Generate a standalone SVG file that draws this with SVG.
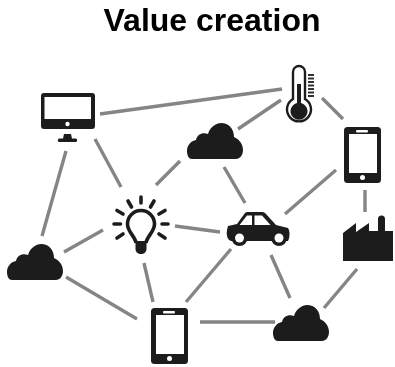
<svg xmlns="http://www.w3.org/2000/svg" width="395" height="367" viewBox="0 0 395 367">
<defs>
<filter id="soft" x="-5%" y="-5%" width="110%" height="110%"><feGaussianBlur stdDeviation="0.7"/></filter>
<filter id="softer" x="-5%" y="-20%" width="110%" height="140%"><feGaussianBlur stdDeviation="0.4"/></filter>
<path id="cloud" d="M5 36 C1 36 0 31 0 28 C0 22 4 18 9 17 C10 12 15 9 21 11 C23 4 29 0 34 0 C42 0 47 6 47 14 C52 16 56 21 56 27 C56 32 53 36 49 36 Z"/>
<g id="phone"><rect width="37" height="56" rx="3.5" class="ink"/><rect x="5" y="7" width="28" height="39" class="hole"/><rect x="12" y="3" width="12" height="2.4" rx="1" class="hole"/><circle cx="18.500" cy="50.500" r="2.500" class="hole"/></g>
</defs>
<style>
.ink{fill:#1e1e1e}
.hole{fill:#fff}
.link{stroke:#858585;stroke-width:3.400;fill:none}
.ray{stroke:#1e1e1e;stroke-width:3.600;stroke-linecap:round;fill:none}
.title{font-family:"Liberation Sans",Arial,sans-serif;font-weight:700;font-size:32px;fill:#000;text-anchor:middle}
</style>
<rect width="395" height="367" fill="#fff"/>
<text class="title" x="212" y="31" filter="url(#softer)">Value creation</text>
<g filter="url(#soft)">
<g id="connectors" class="link">
<path d="M100 114L282 89"/><path d="M95 139L121 187"/><path d="M66 151L42 236"/><path d="M180 161L156 185"/><path d="M281 100L238 129"/><path d="M322 98L343 119"/><path d="M224 167L245 203"/><path d="M336 170L285 214"/><path d="M365 190V212"/><path d="M64 252L103 230"/><path d="M66 277L137 319"/><path d="M144 263L153 302"/><path d="M186 302L231 249"/><path d="M175 226L220 232"/><path d="M271 255L290 298"/><path d="M324 308L357 269"/><path d="M200 322H275"/>
</g>
<g id="monitor"><rect x="41" y="93" width="54" height="36" rx="3" class="ink"/><rect x="44.500" y="97" width="46.500" height="22" class="hole"/><circle cx="67.500" cy="124" r="2.200" class="hole"/><path class="ink" d="M64 134H71L72 138.500H76C77.500 139 77.500 142 76 142H59C57.500 142 57.500 139 59 138.500H63Z"/></g>
<g id="thermometer"><path d="M293 99V72A6 6 0 0 1 305 72V99A12 12 0 1 1 293 99Z" fill="#fff" stroke="#1e1e1e" stroke-width="2.400"/><path class="ink" d="M297 84H301V103A8.500 8.500 0 1 1 297 103Z"/><path d="M308 75H314M308 78.500H314M308 82H314M308 85.500H314M308 89H314M308 92.500H314M308 96H314" stroke="#333" stroke-width="2"/></g>
<g id="cloud-top"><use href="#cloud" x="187" y="123" class="ink"/></g>
<g id="cloud-left"><use href="#cloud" x="7" y="244" class="ink"/></g>
<g id="cloud-bottom"><use href="#cloud" x="273" y="305" class="ink"/></g>
<g id="phone-right"><use href="#phone" x="344" y="127"/></g>
<g id="phone-bottom"><use href="#phone" x="151" y="308"/></g>
<g id="bulb"><path d="M136 243C135 236 127.500 232 127.500 224A13.500 13.500 0 0 1 154.500 224C154.500 232 147 236 146 243" fill="none" stroke="#1e1e1e" stroke-width="3.600"/><path class="ink" d="M135.500 241H146.500V249C146.500 252 144 254 141 254C138 254 135.500 252 135.500 249Z"/><path class="ray" d="M141 197V203M128 201L131.500 207M154 201L150.500 207M117 210.500L123 214M165 210.500L159 214M114 224H120.500M162 224H168M117 238L123 234M165 238L159 234"/></g>
<g id="car"><path class="ink" d="M228 226L237 224L245 213C246 212 247 212 248 212H261C263 212 264 212 266 214L276 225L288 228C290 231 290 237 288 241H231C228 240 226 236 227 230Z"/><path class="hole" d="M239.500 225L247 215.500H252V225ZM254.500 215.500H262L270.500 225H254.500Z"/><circle cx="239.500" cy="238" r="8" class="ink"/><circle cx="279" cy="238" r="8" class="ink"/><circle cx="239.500" cy="238" r="4.500" class="hole"/><circle cx="279" cy="238" r="4.500" class="hole"/></g>
<g id="factory"><path class="ink" d="M343 233L356 223V232L369 223V231H378V219A3.500 3.500 0 0 1 385 219V231H393V261H343Z"/></g>
</g>
</svg>
